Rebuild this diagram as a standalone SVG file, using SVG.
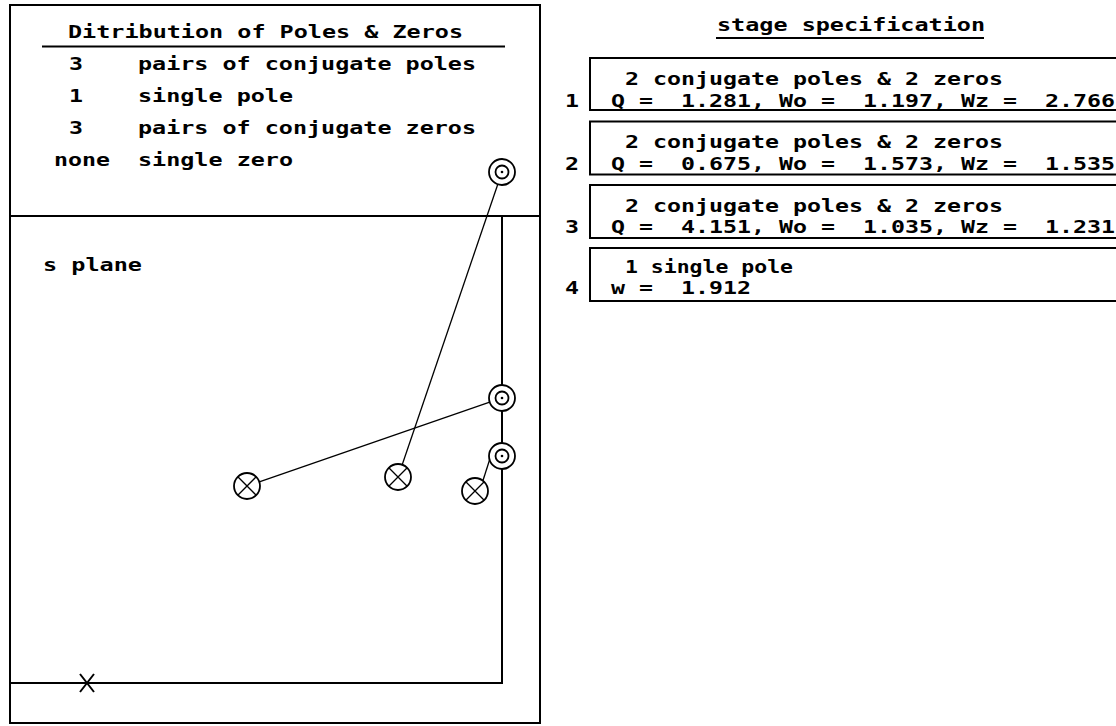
<svg xmlns="http://www.w3.org/2000/svg" width="1116" height="726" viewBox="0 0 1116 726">
<style>
.t{font-family:"DejaVu Sans Mono","Liberation Mono",monospace;font-size:17px;font-weight:bold;fill:#000}
.frame{fill:none;stroke:#000;stroke-width:2}
.ln{stroke:#000;stroke-width:2;fill:none}
.thin{stroke:#000;stroke-width:1.3;fill:none}
.ring{fill:#fff;stroke:#000;stroke-width:1.8}
.dot{fill:#000}
</style>
<rect width="1116" height="726" fill="#fff"/>
<g id="distribution-panel">
<rect class="frame" x="10" y="5" width="530" height="718"/>
<line class="ln" x1="10" y1="216" x2="540" y2="216"/>
<text class="t" x="68" y="38" textLength="395" lengthAdjust="spacingAndGlyphs">Ditribution of Poles &amp; Zeros</text>
<line class="ln" x1="42" y1="46.5" x2="505" y2="46.5" stroke-width="1.5"/>
<text class="t" x="69" y="70" textLength="14" lengthAdjust="spacingAndGlyphs">3</text>
<text class="t" x="138" y="70" textLength="338" lengthAdjust="spacingAndGlyphs">pairs of conjugate poles</text>
<text class="t" x="69" y="102" textLength="14" lengthAdjust="spacingAndGlyphs">1</text>
<text class="t" x="138" y="102" textLength="155" lengthAdjust="spacingAndGlyphs">single pole</text>
<text class="t" x="69" y="134" textLength="14" lengthAdjust="spacingAndGlyphs">3</text>
<text class="t" x="138" y="134" textLength="338" lengthAdjust="spacingAndGlyphs">pairs of conjugate zeros</text>
<text class="t" x="54" y="166" textLength="56" lengthAdjust="spacingAndGlyphs">none</text>
<text class="t" x="138" y="166" textLength="155" lengthAdjust="spacingAndGlyphs">single zero</text>
</g>
<g id="s-plane">
<text class="t" x="43" y="271" textLength="99" lengthAdjust="spacingAndGlyphs">s plane</text>
<polyline class="ln" points="502,216 502,683 10,683"/>
<path class="ln" d="M80,674 L94,692 M80,692 L94,674"/>
</g>
<g id="connectors">
<line class="thin" x1="259.3" y1="481.8" x2="489.7" y2="402.2"/>
<line class="thin" x1="402.2" y1="464.7" x2="497.8" y2="184.3"/>
<line class="thin" x1="482.9" y1="480.7" x2="494.1" y2="445.7"/>
</g>
<g id="zero-top"><circle class="ring" cx="502" cy="172" r="13"/><circle class="ring" cx="502" cy="172" r="6.5"/><circle class="dot" cx="502" cy="172" r="1.3"/></g>
<g id="zero-a"><circle class="ring" cx="502" cy="398" r="13"/><circle class="ring" cx="502" cy="398" r="6.5"/><circle class="dot" cx="502" cy="398" r="1.3"/></g>
<g id="zero-b"><circle class="ring" cx="502" cy="456" r="13"/><circle class="ring" cx="502" cy="456" r="6.5"/><circle class="dot" cx="502" cy="456" r="1.3"/></g>
<g id="pole-1"><circle class="ring" cx="247" cy="486" r="13"/><path class="thin" d="M237.8,476.8 L256.2,495.2 M237.8,495.2 L256.2,476.8"/></g>
<g id="pole-2"><circle class="ring" cx="398" cy="477" r="13"/><path class="thin" d="M388.8,467.8 L407.2,486.2 M388.8,486.2 L407.2,467.8"/></g>
<g id="pole-3"><circle class="ring" cx="475" cy="491" r="13"/><path class="thin" d="M465.8,481.8 L484.2,500.2 M465.8,500.2 L484.2,481.8"/></g>
<g id="stage-title">
<text class="t" x="717" y="31" textLength="268" lengthAdjust="spacingAndGlyphs">stage specification</text>
<line class="ln" x1="716" y1="38" x2="984" y2="38" stroke-width="1.5"/>
</g>
<g id="stage-1">
<rect class="frame" x="590" y="58" width="540" height="52"/>
<text class="t" x="565" y="107" textLength="14" lengthAdjust="spacingAndGlyphs">1</text>
<text class="t" x="625" y="85" textLength="378" lengthAdjust="spacingAndGlyphs">2 conjugate poles &amp; 2 zeros</text>
<text class="t" x="611" y="107" xml:space="preserve" textLength="504" lengthAdjust="spacingAndGlyphs">Q =  1.281, Wo =  1.197, Wz =  2.766</text>
</g>
<g id="stage-2">
<rect class="frame" x="590" y="121.5" width="540" height="53"/>
<text class="t" x="565" y="170" textLength="14" lengthAdjust="spacingAndGlyphs">2</text>
<text class="t" x="625" y="148" textLength="378" lengthAdjust="spacingAndGlyphs">2 conjugate poles &amp; 2 zeros</text>
<text class="t" x="611" y="170" xml:space="preserve" textLength="504" lengthAdjust="spacingAndGlyphs">Q =  0.675, Wo =  1.573, Wz =  1.535</text>
</g>
<g id="stage-3">
<rect class="frame" x="590" y="185" width="540" height="53"/>
<text class="t" x="565" y="233" textLength="14" lengthAdjust="spacingAndGlyphs">3</text>
<text class="t" x="625" y="212" textLength="378" lengthAdjust="spacingAndGlyphs">2 conjugate poles &amp; 2 zeros</text>
<text class="t" x="611" y="233" xml:space="preserve" textLength="504" lengthAdjust="spacingAndGlyphs">Q =  4.151, Wo =  1.035, Wz =  1.231</text>
</g>
<g id="stage-4">
<rect class="frame" x="590" y="248" width="540" height="53"/>
<text class="t" x="565" y="294" textLength="14" lengthAdjust="spacingAndGlyphs">4</text>
<text class="t" x="625" y="273" textLength="168" lengthAdjust="spacingAndGlyphs">1 single pole</text>
<text class="t" x="611" y="294" xml:space="preserve" textLength="140" lengthAdjust="spacingAndGlyphs">w =  1.912</text>
</g>
</svg>
